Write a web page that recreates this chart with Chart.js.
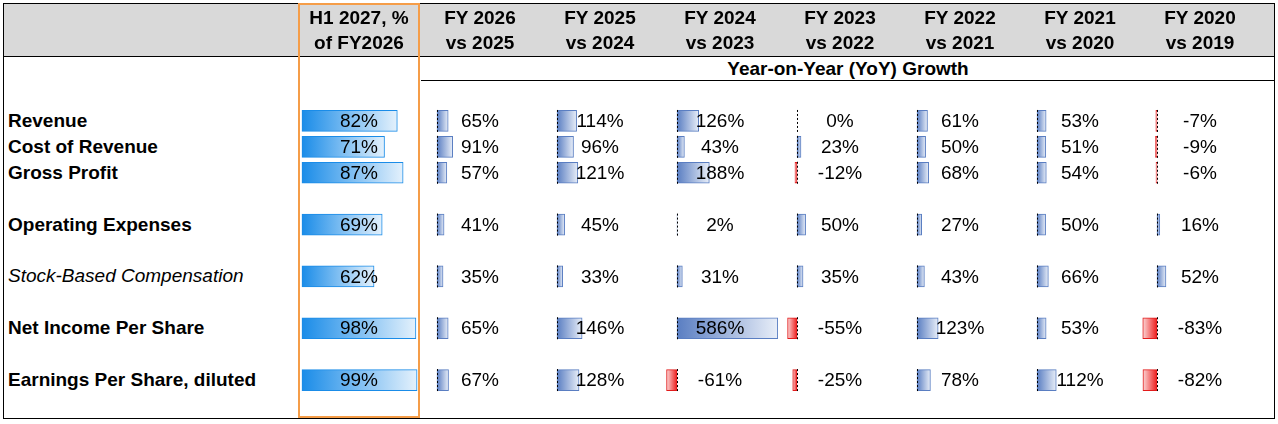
<!DOCTYPE html>
<html><head><meta charset="utf-8">
<script src="https://cdn.jsdelivr.net/npm/chart.js@4"></script>
<style>
body{margin:0;background:#fff;font-family:"Liberation Sans",Arial,sans-serif;}
#wrap{position:relative;width:1278px;height:424px;overflow:hidden;}
.hdr{position:absolute;top:3px;left:3px;width:1272px;height:52px;background:#d9d9d9;border-top:1px solid #000;border-bottom:1px solid #000;}
.col{position:absolute;top:5px;width:120px;text-align:center;font-weight:bold;font-size:19px;line-height:25px;}
.lab{position:absolute;left:8px;font-size:19px;font-weight:bold;line-height:20px;}
canvas{position:absolute;}
</style></head><body>
<div id="wrap">
<div class="hdr"></div>
<div style="position:absolute;left:3px;top:3px;width:1272px;height:416px;border:1px solid #000;box-sizing:border-box;border-top:none"></div>
<div style="position:absolute;left:421px;top:80px;width:854px;border-top:1px solid #000"></div>
<div style="position:absolute;left:421px;top:58px;width:854px;text-align:center;font-weight:bold;font-size:19px">Year-on-Year (YoY) Growth</div>
<div id="labels"></div>
<div id="charts"></div>
<div style="position:absolute;left:298px;top:3px;width:122px;height:415px;border:2px solid #f59d48;box-sizing:border-box"></div>
</div>
<script>
const rowLabels = ["Revenue", "Cost of Revenue", "Gross Profit", "", "Operating Expenses", "", "Stock-Based Compensation", "", "Net Income Per Share", "", "Earnings Per Share, diluted"];
const columns = ["H1 2027, %\nof FY2026", "FY 2026\nvs 2025", "FY 2025\nvs 2024", "FY 2024\nvs 2023", "FY 2023\nvs 2022", "FY 2022\nvs 2021", "FY 2021\nvs 2020", "FY 2020\nvs 2019"];
const h1Values = [82, 71, 87, null, 69, null, 62, null, 98, null, 99];
const fy2026 = [65, 91, 57, null, 41, null, 35, null, 65, null, 67];
const fy2025 = [114, 96, 121, null, 45, null, 33, null, 146, null, 128];
const fy2024 = [126, 43, 188, null, 2, null, 31, null, 586, null, -61];
const fy2023 = [0, 23, -12, null, 50, null, 35, null, -55, null, -25];
const fy2022 = [61, 50, 68, null, 27, null, 43, null, 123, null, 78];
const fy2021 = [53, 51, 54, null, 50, null, 66, null, 53, null, 112];
const fy2020 = [-7, -9, -6, null, 16, null, 52, null, -83, null, -82];
const series = [h1Values, fy2026, fy2025, fy2024, fy2023, fy2022, fy2021, fy2020];

const top0 = 108, rowH = 25.9;
const labelsDiv = document.getElementById("labels");
rowLabels.forEach((t, i) => {
  if (!t) return;
  const d = document.createElement("div");
  d.className = "lab";
  d.style.top = (top0 + i * rowH + 3) + "px";
  d.textContent = t;
  if (i === 6) { d.style.fontWeight = "normal"; d.style.fontStyle = "italic"; }
  labelsDiv.appendChild(d);
});

const wrap = document.getElementById("wrap");
columns.forEach((c, i) => {
  const d = document.createElement("div");
  d.className = "col";
  d.style.left = (i === 0 ? 299 : 420 + (i - 1) * 120) + "px";
  d.innerHTML = c.replace("\n", "<br>");
  wrap.appendChild(d);
});

const valueText = {
  id: "valueText",
  afterDatasetsDraw(chart) {
    const ctx = chart.ctx, a = chart.chartArea, x = chart.scales.x, y = chart.scales.y;
    const data = chart.data.datasets[0].data;
    ctx.save();
    data.forEach((v, i) => {
      if (v === null) return;
      const py = y.getPixelForValue(i);
      if (!chart.options.isH1) {
        ctx.strokeStyle = "#000"; ctx.lineWidth = 1; ctx.setLineDash([2, 2]);
        const zx = Math.round(x.getPixelForValue(0)) + 0.5;
        ctx.beginPath(); ctx.moveTo(zx, py - 11); ctx.lineTo(zx, py + 11); ctx.stroke();
        ctx.setLineDash([]);
      }
      ctx.fillStyle = "#000";
      ctx.font = "19px 'Liberation Sans', Arial, sans-serif";
      ctx.textAlign = "center"; ctx.textBaseline = "middle";
      ctx.fillText(v + "%", (a.left + a.right) / 2, py + 1);
    });
    ctx.restore();
  }
};

function barFill(context) {
  const chart = context.chart, a = chart.chartArea;
  const v = context.raw;
  if (!a || v === null || v === undefined) return "#5a7ec2";
  const x = chart.scales.x;
  const x0 = x.getPixelForValue(0), x1 = x.getPixelForValue(v);
  if (!isFinite(x0) || !isFinite(x1)) return "#5a7ec2";
  const g = chart.ctx.createLinearGradient(x0, 0, x1 === x0 ? x0 + 1 : x1, 0);
  if (chart.options.isH1) { g.addColorStop(0, "#1a8ce8"); g.addColorStop(1, "#e4f1fc"); }
  else if (v < 0) { g.addColorStop(0, "#ee1c1c"); g.addColorStop(1, "#fbd6d6"); }
  else { g.addColorStop(0, "#5a7ec2"); g.addColorStop(1, "#e8eef8"); }
  return g;
}

const chartsDiv = document.getElementById("charts");
series.forEach((vals, i) => {
  const cv = document.createElement("canvas");
  const left = i === 0 ? 298 : 420 + (i - 1) * 120;
  cv.width = i === 0 ? 122 : 120; cv.height = Math.round(rowLabels.length * rowH);
  cv.style.left = left + "px"; cv.style.top = top0 + "px";
  cv.style.width = cv.width + "px"; cv.style.height = cv.height + "px";
  chartsDiv.appendChild(cv);
  const isH1 = i === 0;
  new Chart(cv.getContext("2d"), {
    type: "bar",
    data: {
      labels: rowLabels,
      datasets: [{
        data: vals,
        backgroundColor: barFill,
        borderColor: ctx => isH1 ? "#1a8ce8" : (ctx.raw < 0 ? "#e21b1b" : "#5a7ec2"),
        borderWidth: 1,
        borderSkipped: false,
        barThickness: 21
      }]
    },
    plugins: [valueText],
    options: {
      isH1: isH1,
      indexAxis: "y",
      responsive: false,
      animation: false,
      devicePixelRatio: 1,
      layout: { padding: 0 },
      plugins: { legend: { display: false }, tooltip: { enabled: false } },
      scales: {
        x: { display: false, min: isH1 ? -3.4 : -99, max: isH1 ? 101.5 : 599 },
        y: { display: false }
      }
    }
  });
});
</script>
</body></html>
